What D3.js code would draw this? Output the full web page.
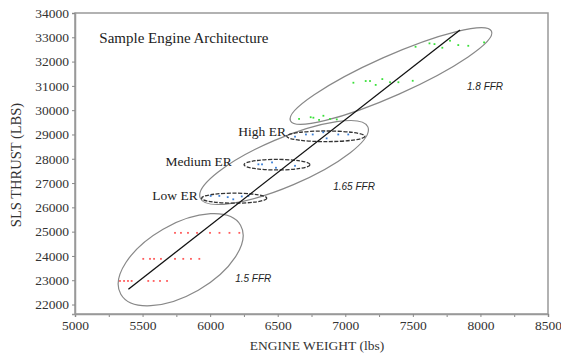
<!DOCTYPE html>
<html>
<head>
<meta charset="utf-8">
<script src="https://cdn.jsdelivr.net/npm/d3@7"></script>
<style>
  body { margin: 0; background: #fff; }
  .tick text { font-family: "Liberation Serif", "DejaVu Serif", serif; font-size: 13.5px; fill: #333; }
</style>
</head>
<body>
<div id="chart"></div>
<script>
// Puntos por familia de motores [peso (lbs), empuje (lbs)]
const ffr15 = [
  [5740, 24950], [5784, 24950], [5836, 24950], [5903, 24950], [5999, 24950], [6069, 24950], [6143, 24950], [6216, 24950],
  [5505, 23880], [5555, 23880], [5585, 23880], [5636, 23880], [5740, 23880], [5801, 23880], [5858, 23880], [5920, 23880],
  [5333, 22970], [5363, 22970], [5392, 22970], [5419, 22970], [5542, 22970], [5582, 22970], [5629, 22970], [5681, 22970]
];
const lowER = [[6004, 26470], [6068, 26470], [6130, 26420], [6171, 26330], [6234, 26450], [6283, 26470]];
const mediumER = [[6357, 27770], [6384, 27770], [6458, 27850], [6487, 27630], [6628, 27710]];
const highER = [[6628, 28910], [6709, 29000], [6759, 29000], [6837, 29090], [6862, 28840], [6948, 29000], [7022, 29000]];
const ffr18 = [
  [6658, 29640], [6744, 29710], [6764, 29690], [6806, 29600], [6838, 29770], [6887, 29640], [6937, 29620],
  [7060, 31130], [7151, 31200], [7183, 31200], [7225, 31040], [7274, 31280], [7331, 31150], [7393, 31150], [7499, 31210],
  [7520, 32610], [7623, 32750], [7660, 32720], [7718, 32570], [7775, 32860], [7836, 32680], [7910, 32650], [8027, 32790]
];

// Recta de tendencia
const trend = [[5395, 22630], [7849, 33300]];

// Elipses: centro, extremo del eje mayor, relación eje menor / mayor
const ellipseNames = ["1.5 FFR", "1.65 FFR", "1.8 FFR", "Low ER", "Medium ER", "High ER"];
const ellipseCenters = [[5782, 23845], [6547, 27846], [7338, 31407], [6178, 26377], [6495, 27756], [6856, 28925]];
const ellipseEnds = [[6225, 25265], [7167, 29312], [8082, 33247], [6419, 26377], [6739, 27756], [7145, 28925]];
const ellipseRatios = [0.51, 0.264, 0.18, 0.154, 0.16, 0.136];

// Ejes
const xTicks = [5000, 5500, 6000, 6500, 7000, 7500, 8000, 8500];
const yTicks = [22000, 23000, 24000, 25000, 26000, 27000, 28000, 29000, 30000, 31000, 32000, 33000, 34000];

const width = 561, height = 356;
const svg = d3.select("#chart").append("svg")
  .attr("width", width)
  .attr("height", height);

const x = d3.scaleLinear().domain([5000, 8500]).range([75, 548]);
const y = d3.scaleLinear().domain([21610, 34000]).range([314, 13]);

// Marco del gráfico
svg.append("rect")
  .attr("x", x(5000)).attr("y", y(34000))
  .attr("width", x(8500) - x(5000)).attr("height", y(21610) - y(34000))
  .attr("fill", "none").attr("stroke", "#999").attr("stroke-width", 1.5);

// Marcas menores del eje X
const minorX = d3.range(5250, 8500, 500);
svg.append("g")
  .attr("transform", `translate(0,${y(21610)})`)
  .call(d3.axisBottom(x).tickValues(minorX).tickSize(3).tickFormat(""))
  .call(g => g.select(".domain").remove())
  .call(g => g.selectAll("line").attr("stroke", "#888"));

const xAxis = svg.append("g")
  .attr("transform", `translate(0,${y(21610)})`)
  .call(d3.axisBottom(x).tickValues(xTicks).tickSize(3).tickPadding(3).tickFormat(d3.format("d")));
xAxis.select(".domain").attr("stroke", "#999").attr("stroke-width", 1.5);
xAxis.selectAll("line").attr("stroke", "#888");

const yAxis = svg.append("g")
  .attr("transform", `translate(${x(5000)},0)`)
  .call(d3.axisLeft(y).tickValues(yTicks).tickSize(3).tickPadding(3).tickFormat(d3.format("d")));
yAxis.select(".domain").attr("stroke", "#999").attr("stroke-width", 1.5);
yAxis.selectAll("line").attr("stroke", "#888");

// Títulos de los ejes
svg.append("text")
  .attr("x", 317).attr("y", 350)
  .attr("text-anchor", "middle")
  .style("font-family", "'Liberation Serif', serif")
  .style("font-size", "13.5px").style("fill", "#333")
  .text("ENGINE WEIGHT (lbs)");

svg.append("text")
  .attr("transform", "translate(21,165) rotate(-90)")
  .attr("text-anchor", "middle")
  .style("font-family", "'Liberation Serif', serif")
  .style("font-size", "14.5px").style("fill", "#333")
  .text("SLS THRUST (LBS)");

// Elipses
const ellipses = ellipseNames.map((name, i) => {
  const cx = x(ellipseCenters[i][0]), cy = y(ellipseCenters[i][1]);
  const ex = x(ellipseEnds[i][0]), ey = y(ellipseEnds[i][1]);
  const rx = Math.hypot(ex - cx, ey - cy);
  return { name, cx, cy, rx, ry: rx * ellipseRatios[i], ang: Math.atan2(ey - cy, ex - cx) * 180 / Math.PI };
});

svg.append("g")
  .selectAll("ellipse")
  .data(ellipses)
  .enter()
  .append("ellipse")
  .attr("cx", 0).attr("cy", 0)
  .attr("rx", d => d.rx).attr("ry", d => d.ry)
  .attr("transform", d => `translate(${d.cx},${d.cy}) rotate(${d.ang})`)
  .attr("fill", "none")
  .attr("stroke", d => d.name.endsWith("ER") ? "#333" : "#888")
  .attr("stroke-width", d => d.name.endsWith("ER") ? 1.3 : 1.2)
  .attr("stroke-dasharray", d => d.name.endsWith("ER") ? "4,1.5" : null);

// Puntos
const series = [
  { data: ffr15, color: "#ff5a5a" },
  { data: lowER, color: "#3b7fd6" },
  { data: mediumER, color: "#3b7fd6" },
  { data: highER, color: "#3b7fd6" },
  { data: ffr18, color: "#3ae03a" }
];
series.forEach(s => {
  svg.append("g")
    .selectAll("rect")
    .data(s.data)
    .enter()
    .append("rect")
    .attr("x", d => x(d[0]) - 0.9)
    .attr("y", d => y(d[1]) - 0.9)
    .attr("width", 1.8).attr("height", 1.8)
    .attr("fill", s.color);
});

// Recta
svg.append("path")
  .datum(trend)
  .attr("d", d3.line().x(d => x(d[0])).y(d => y(d[1])))
  .attr("stroke", "#111").attr("stroke-width", 1.3).attr("fill", "none");

// Etiquetas
const serifLabel = (txt, w, t, anchor, size) => svg.append("text")
  .attr("x", x(w)).attr("y", y(t))
  .attr("dy", "0.35em")
  .attr("text-anchor", anchor)
  .style("font-family", "'Liberation Serif', serif")
  .style("font-size", size).style("fill", "#222")
  .text(txt);

serifLabel("Sample Engine Architecture", 5180, 32971, "start", "15px");
serifLabel("High ER", 6561, 29143, "end", "13.5px");
serifLabel("Medium ER", 6160, 27879, "end", "13.5px");
serifLabel("Low ER", 5908, 26508, "end", "13.5px");

const ffrLabel = (txt, w, t) => svg.append("text")
  .attr("x", x(w)).attr("y", y(t))
  .attr("dy", "0.35em")
  .attr("text-anchor", "middle")
  .style("font-family", "'Liberation Sans', Arial, sans-serif")
  .style("font-style", "italic")
  .style("font-size", "10px").style("fill", "#222")
  .text(txt);

ffrLabel("1.8 FFR", 8034, 30966);
ffrLabel("1.65 FFR", 7065, 26850);
ffrLabel("1.5 FFR", 6319, 23079);
</script>
</body>
</html>
